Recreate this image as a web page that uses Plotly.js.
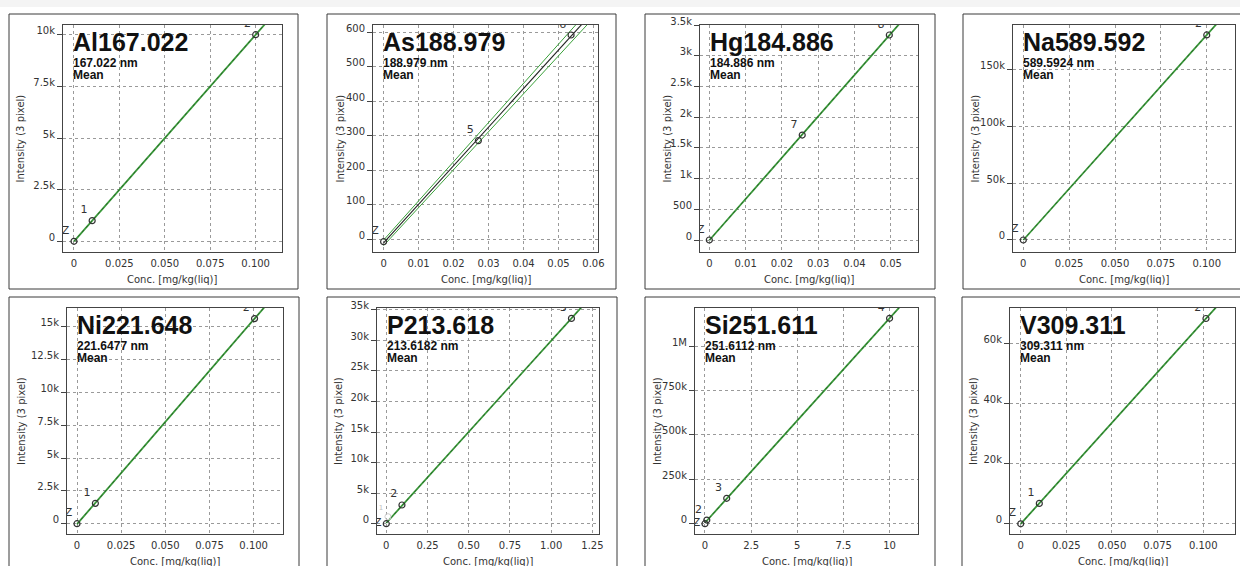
<!DOCTYPE html>
<html><head><meta charset="utf-8">
<script src="https://cdn.plot.ly/plotly-3.0.1.min.js"></script>
<style>html,body{margin:0;padding:0;background:#fff;}#chart{width:1240px;height:566px;}</style>
</head><body><div id="chart"></div>
<script>
// ---------- data ----------
const alConc = [0, 0.01, 0.1];
const alInt = [0, 1000, 10000];
const alLabels = ['Z', '1', '2'];

const asConc = [0, 0.0271, 0.0536];
const asInt = [-7, 286, 592];
const asLabels = ['Z', '5', '6'];
const asBandConc = [0, 0.062];
const asBandHalf = [8, 19];

const hgConc = [0, 0.0256, 0.0496];
const hgInt = [0, 1709, 3337];
const hgLabels = ['Z', '7', '8'];

const naConc = [0, 0.1];
const naInt = [0, 180900];
const naLabels = ['Z', '2'];

const niConc = [0, 0.0104, 0.1005];
const niInt = [0, 1551, 15616];
const niLabels = ['Z', '1', '2'];

const pConc = [0, 0.095, 1.123];
const pInt = [0, 3063, 33600];
const pLabels = ['Z', '2', '3'];
const pExclConc = [0.01];
const pExclInt = [1150];
const pExclLabels = ['1'];

const siConc = [0, 0.1, 1.177, 10];
const siInt = [0, 20600, 143000, 1156000];
const siLabels = ['Z', '2', '3', '4'];

const vConc = [0, 0.0102, 0.1015];
const vInt = [0, 6788, 68300];
const vLabels = ['Z', '1', '2'];

const titles = ['Al167.022', 'As188.979', 'Hg184.886', 'Na589.592', 'Ni221.648', 'P213.618', 'Si251.611', 'V309.311'];
const wavelengths = ['167.022 nm', '188.979 nm', '184.886 nm', '589.5924 nm', '221.6477 nm', '213.6182 nm', '251.6112 nm', '309.311 nm'];

const ticks01 = [0, 0.025, 0.05, 0.075, 0.1];
const ticks01Text = ['0', '0.025', '0.050', '0.075', '0.100'];
const ticks006 = [0, 0.01, 0.02, 0.03, 0.04, 0.05, 0.06];
const ticks006Text = ['0', '0.01', '0.02', '0.03', '0.04', '0.05', '0.06'];
const ticks005 = [0, 0.01, 0.02, 0.03, 0.04, 0.05];
const ticks005Text = ['0', '0.01', '0.02', '0.03', '0.04', '0.05'];
const ticks125 = [0, 0.25, 0.5, 0.75, 1, 1.25];
const ticks125Text = ['0', '0.25', '0.50', '0.75', '1.00', '1.25'];
const ticks10 = [0, 2.5, 5, 7.5, 10];
const ticks10Text = ['0', '2.5', '5', '7.5', '10'];

const xTitle = 'Conc. [mg/kg(liq)]';
const yTitle = 'Intensity (3 pixel)';

// ---------- layout geometry (pixels) ----------
const W = 1240, H = 566;
const panels = [
  {conc: alConc, inte: alInt, lab: alLabels, xr: [-0.00605, 0.1145], yr: [-518, 10470], xt: ticks01, xtt: ticks01Text, dy: 2500,
   plot: [63, 282, 25, 252], frame: [9, 298, 14, 289], ytx: 20},
  {conc: asConc, inte: asInt, lab: asLabels, xr: [-0.00303, 0.0613], yr: [-36.8, 621], xt: ticks006, xtt: ticks006Text, dy: 100,
   plot: [373, 598, 25, 252], frame: [327, 616, 14, 289], ytx: 340, band: true},
  {conc: hgConc, inte: hgInt, lab: hgLabels, xr: [-0.00257, 0.0575], yr: [-195, 3500], xt: ticks005, xtt: ticks005Text, dy: 500,
   plot: [700, 918, 25, 252], frame: [645, 935, 14, 289], ytx: 667},
  {conc: naConc, inte: naInt, lab: naLabels, xr: [-0.00562, 0.1154], yr: [-10600, 189700], xt: ticks01, xtt: ticks01Text, dy: 50000,
   plot: [1013, 1235, 25, 252], frame: [963, 1250, 14, 289], ytx: 975},
  {conc: niConc, inte: niInt, lab: niLabels, xr: [-0.00566, 0.1166], yr: [-783, 16422], xt: ticks01, xtt: ticks01Text, dy: 2500,
   plot: [67, 283, 308, 534], frame: [9, 299, 297, 580], ytx: 21},
  {conc: pConc, inte: pInt, lab: pLabels, xr: [-0.0563, 1.29], yr: [-1687, 35300], xt: ticks125, xtt: ticks125Text, dy: 5000,
   plot: [377, 599, 308, 534], frame: [327, 617, 297, 580], ytx: 338, excl: true, zmid: true},
  {conc: siConc, inte: siInt, lab: siLabels, xr: [-0.54, 11.54], yr: [-58000, 1213900], xt: ticks10, xtt: ticks10Text, dy: 250000,
   plot: [695, 918, 308, 534], frame: [645, 935, 297, 580], ytx: 657, zmid: true},
  {conc: vConc, inte: vInt, lab: vLabels, xr: [-0.00586, 0.1174], yr: [-3400, 71800], xt: ticks01, xtt: ticks01Text, dy: 20000,
   plot: [1010, 1235, 308, 534], frame: [962, 1250, 297, 580], ytx: 973}
];

const px = x => x / W;
const py = y => 1 - y / H;

function fit(xs, ys) {
  const n = xs.length;
  let sx = 0, sy = 0, sxx = 0, sxy = 0;
  for (let i = 0; i < n; i++) { sx += xs[i]; sy += ys[i]; sxx += xs[i] * xs[i]; sxy += xs[i] * ys[i]; }
  const b = (n * sxy - sx * sy) / (n * sxx - sx * sx);
  const a = (sy - b * sx) / n;
  return {a, b};
}

const FONT = 'DejaVu Sans, Verdana, sans-serif';
const TFONT = 'Liberation Sans, Arial, sans-serif';
const traces = [];
const layout = {
  width: W, height: H, margin: {l: 0, r: 0, t: 0, b: 0},
  paper_bgcolor: '#ffffff', plot_bgcolor: '#ffffff', showlegend: false,
  shapes: [], annotations: []
};
layout.shapes.push({type: 'rect', xref: 'paper', yref: 'paper', x0: 0, x1: 1, y0: py(7), y1: 1,
  fillcolor: '#f4f4f4', line: {width: 0}, layer: 'below'});

panels.forEach((p, i) => {
  const k = i + 1;
  const xa = k === 1 ? 'x' : 'x' + k;
  const ya = k === 1 ? 'y' : 'y' + k;
  const xk = k === 1 ? 'xaxis' : 'xaxis' + k;
  const yk = k === 1 ? 'yaxis' : 'yaxis' + k;
  const [L, R, T, B] = p.plot;
  layout[xk] = {
    domain: [px(L), px(R)], range: p.xr, anchor: ya,
    tickmode: 'array', tickvals: p.xt, ticktext: p.xtt,
    ticks: '', ticklabelstandoff: 2,
    showgrid: true, gridcolor: '#9a9a9a', griddash: '3px,3px', gridwidth: 1,
    zeroline: false, showline: true, mirror: true, linecolor: '#444', linewidth: 1,
    tickfont: {family: FONT, size: 10, color: '#333'}, fixedrange: true
  };
  layout[yk] = {
    domain: [py(B), py(T)], range: p.yr, anchor: xa,
    tick0: 0, dtick: p.dy, tickformat: '~s',
    ticks: 'outside', ticklen: 5, tickcolor: '#444', ticklabelshift: -4, ticklabelstandoff: 0,
    showgrid: true, gridcolor: '#9a9a9a', griddash: '3px,3px', gridwidth: 1,
    zeroline: false, showline: true, mirror: true, linecolor: '#444', linewidth: 1,
    tickfont: {family: FONT, size: 10, color: '#333'}, fixedrange: true
  };

  // calibration line
  const f = fit(p.conc, p.inte);
  const lx = [0, p.xr[1]];
  const ly = lx.map(x => f.a + f.b * x);
  if (p.band) {
    const bh = x => asBandHalf[0] + (asBandHalf[1] - asBandHalf[0]) * (x - asBandConc[0]) / (asBandConc[1] - asBandConc[0]);
    traces.push({x: lx, y: lx.map(x => f.a + f.b * x + bh(x)), xaxis: xa, yaxis: ya, mode: 'lines',
      line: {color: '#3aa03a', width: 1}, hoverinfo: 'skip'});
    traces.push({x: lx, y: lx.map(x => f.a + f.b * x - bh(x)), xaxis: xa, yaxis: ya, mode: 'lines',
      line: {color: '#3aa03a', width: 1}, hoverinfo: 'skip'});
    traces.push({x: lx, y: ly, xaxis: xa, yaxis: ya, mode: 'lines',
      line: {color: '#222', width: 1.1}, hoverinfo: 'skip'});
  } else {
    traces.push({x: lx, y: ly, xaxis: xa, yaxis: ya, mode: 'lines',
      line: {color: '#3a9a3a', width: 1.8}, hoverinfo: 'skip'});
    traces.push({x: lx, y: ly, xaxis: xa, yaxis: ya, mode: 'lines',
      line: {color: '#1a3a1a', width: 1, dash: 'dot'}, opacity: 0.55, hoverinfo: 'skip'});
  }
  if (p.excl) {
    traces.push({x: pExclConc, y: pExclInt, text: pExclLabels, xaxis: xa, yaxis: ya, mode: 'markers+text',
      marker: {symbol: 'circle-open', size: 6, color: '#cfcfcf', line: {width: 1}},
      textposition: 'top left', textfont: {family: FONT, size: 7, color: '#c0c0c0'}, hoverinfo: 'skip'});
  }
  const tpos = p.lab.map((l, j) => (p.zmid && j === 0) ? 'middle left' : 'top left');
  traces.push({x: p.conc, y: p.inte, text: p.lab, xaxis: xa, yaxis: ya, mode: 'markers+text',
    marker: {symbol: 'circle-open', size: 6, color: '#333', line: {width: 1.2, color: '#333'}},
    textposition: tpos, textfont: {family: FONT, size: 11, color: '#333'}, hoverinfo: 'skip'});

  // frame
  const [fl, fr, ft, fb] = p.frame;
  layout.shapes.push({type: 'rect', xref: 'paper', yref: 'paper', x0: px(fl), x1: px(fr), y0: py(fb), y1: py(ft),
    line: {color: '#3a3a3a', width: 1}, fillcolor: 'rgba(0,0,0,0)', layer: 'below'});

  // texts
  const capTop = T + 8;
  const tx = L + 10;
  layout.annotations.push({xref: 'paper', yref: 'paper', x: px(tx - 1), y: py(capTop - 6), xanchor: 'left', yanchor: 'top',
    text: '<b>' + titles[i] + '</b>', showarrow: false, font: {family: TFONT, size: 25, color: '#111'}, borderpad: 0});
  layout.annotations.push({xref: 'paper', yref: 'paper', x: px(tx - 1), y: py(capTop + 22), xanchor: 'left', yanchor: 'top',
    text: '<b>' + wavelengths[i] + '</b>', showarrow: false, font: {family: TFONT, size: 12, color: '#111'}, borderpad: 0});
  layout.annotations.push({xref: 'paper', yref: 'paper', x: px(tx - 1), y: py(capTop + 34), xanchor: 'left', yanchor: 'top',
    text: '<b>Mean</b>', showarrow: false, font: {family: TFONT, size: 12, color: '#111'}, borderpad: 0});
  layout.annotations.push({xref: 'paper', yref: 'paper', x: px((L + R) / 2), y: py(B + 27), xanchor: 'center', yanchor: 'middle',
    text: xTitle, showarrow: false, font: {family: FONT, size: 10, color: '#333'}});
  layout.annotations.push({xref: 'paper', yref: 'paper', x: px(p.ytx), y: py((T + B) / 2), xanchor: 'center', yanchor: 'middle',
    text: yTitle, textangle: -90, showarrow: false, font: {family: FONT, size: 10, color: '#333'}});
});

Plotly.newPlot('chart', traces, layout, {displayModeBar: false, staticPlot: true});
</script>
</body></html>
